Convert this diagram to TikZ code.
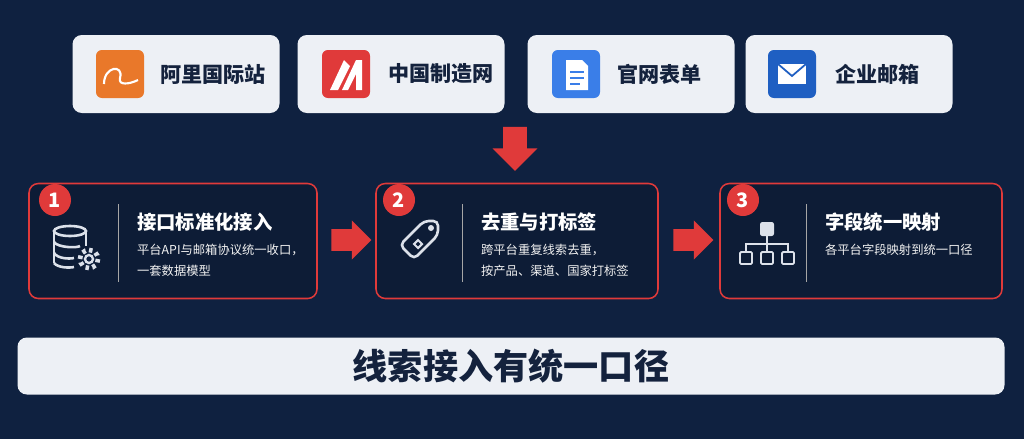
\documentclass[tikz,border=0pt]{standalone}
\usepackage{fontspec}
\setmainfont{Noto Sans CJK SC}
\usetikzlibrary{positioning,shapes.arrows}
\definecolor{bgnavy}{HTML}{0F2140}
\definecolor{cardgray}{HTML}{EDF0F5}
\definecolor{stepred}{HTML}{E03A3A}
\definecolor{inknavy}{HTML}{14223D}
\definecolor{aliorange}{HTML}{E9782A}
\definecolor{docblue}{HTML}{3A7EE8}
\definecolor{mailblue}{HTML}{1F5FC2}
\definecolor{icongray}{HTML}{DCE1EA}

\begin{document}
\begin{tikzpicture}[x=0.03cm,y=-0.03cm,
    source/.style = {
      fill = cardgray,
      rounded corners = 8pt,
      minimum width = 207*0.03cm,
      minimum height = 78*0.03cm
    },
    logo/.style = {
      rounded corners = 5pt,
      minimum size = 48*0.03cm
    },
    srctext/.style = {
      font = \fontsize{18}{20}\selectfont\bfseries,
      text = inknavy,
      anchor = west
    },
    stage/.style = {
      draw = stepred,
      line width = 1.3pt,
      fill = bgnavy!85!black,
      rounded corners = 8pt,
      minimum height = 115*0.03cm
    },
    badge/.style = {
      circle,
      fill = stepred,
      text = white,
      minimum size = 32*0.03cm,
      inner sep = 0pt,
      font = \fontsize{17}{17}\selectfont\bfseries
    },
    steptitle/.style = {
      font = \fontsize{16.5}{18}\selectfont\bfseries,
      text = white,
      anchor = west
    },
    stepdesc/.style = {
      font = \fontsize{10.5}{18}\selectfont,
      text = white!90!gray,
      anchor = north west,
      align = left
    },
    flow/.style = {
      single arrow,
      fill = stepred,
      minimum height = 40*0.03cm,
      inner xsep = 0pt,
      inner ysep = 9pt,
      single arrow head extend = 7.5pt
    },
    icon/.style = {
      icongray,
      line width = 2.2pt
    }
  ]
  \fill[bgnavy] (0,0) rectangle (1024,439);

  % sources
  \node[source] (ali)  at (176,74) {};
  \node[source] (made) at (401,74) {};
  \node[source] (form) at (631,74) {};
  \node[source] (mail) at (849,74) {};

  \node[logo,fill=aliorange] (alilogo)  at (120,74) {};
  \node[logo,fill=stepred]   (madelogo) at (346,74) {};
  \node[logo,fill=docblue]   (formlogo) at (576,74) {};
  \node[logo,fill=mailblue]  (maillogo) at (792,74) {};

  \node[srctext] at (156,74) {阿里国际站};
  \node[srctext] at (384,74) {中国制造网};
  \node[srctext] at (613,74) {官网表单};
  \node[srctext] at (831,74) {企业邮箱};

  % logo marks
  \draw[white,line width=1.8pt] (104,84) .. controls (104,66) and (124,64) .. (120,78)
    .. controls (118,86) and (130,84) .. (138,80);
  \fill[white] (330,90) -- (344,60) -- (350,66) -- (338,90) -- cycle;
  \fill[white] (342,90) -- (356,60) -- (362,60) -- (362,90) -- (356,90) -- (356,74) -- (348,90) -- cycle;
  \fill[white] (566,60) -- (582,60) -- (588,66) -- (588,90) -- (566,90) -- cycle;
  \draw[docblue,line width=1.5pt] (570,72) -- (584,72) (570,78) -- (584,78) (570,84) -- (580,84);
  \fill[white] (778,64) rectangle (806,84);
  \draw[mailblue,line width=1.5pt] (778,64) -- (792,76) -- (806,64);

  \node[flow,shape border rotate=270,minimum height=44*0.03cm,inner xsep=10pt,inner ysep=0pt,single arrow head extend=9pt] (down) at (515,143) {};

  % steps
  \node[stage,minimum width=288*0.03cm] (ingest) at (173,241) {};
  \node[stage,minimum width=282*0.03cm] (dedup)  at (517,241) {};
  \node[stage,minimum width=282*0.03cm] (mapping) at (861,241) {};

  \node[flow] (a12) at (346,240) {};
  \node[flow] (a23) at (688,240) {};

  \node[badge] (b1) at (55,200) {1};
  \node[badge] (b2) at (399,200) {2};
  \node[badge] (b3) at (743,200) {3};

  \draw[gray!70,line width=0.6pt] (118,204) -- (118,282);
  \draw[gray!70,line width=0.6pt] (462,204) -- (462,282);
  \draw[gray!70,line width=0.6pt] (806,204) -- (806,282);

  \node[steptitle] at (133,222) {接口标准化接入};
  \node[stepdesc]  at (133,240) {平台API与邮箱协议统一收口，\\一套数据模型};
  \node[steptitle] at (477,222) {去重与打标签};
  \node[stepdesc]  at (477,240) {跨平台重复线索去重，\\按产品、渠道、国家打标签};
  \node[steptitle] at (821,222) {字段统一映射};
  \node[stepdesc]  at (821,240) {各平台字段映射到统一口径};

  % step icons
  \draw[icon] (70,231) ellipse (16 and 5);
  \draw[icon] (54,231) -- (54,263) (86,231) -- (86,246);
  \draw[icon] (54,242) .. controls (58,248) and (78,248) .. (80,246);
  \draw[icon] (54,253) .. controls (58,259) and (70,259) .. (74,258);
  \draw[icon] (54,263) .. controls (58,268) and (70,268) .. (74,267);
  \draw[icon,line width=4pt,dash pattern=on 3pt off 3pt] (89,259) circle (9);
  \fill[bgnavy] (89,259) circle (6);
  \draw[icon,line width=2pt] (89,259) circle (4);

  \draw[icon,rounded corners=4pt] (400,245) -- (424,221) -- (438,221) -- (438,235) -- (414,259) -- cycle;
  \fill[icongray] (431,228) circle (3);
  \draw[icon,line width=1.8pt] (418,240) -- (422,244) -- (418,248) -- (414,244) -- cycle;

  \fill[icongray,rounded corners=2pt] (760,222) rectangle (774,236);
  \draw[icon,line width=1.6pt] (767,236) -- (767,244) (746,252) -- (746,244) -- (788,244) -- (788,252) (767,244) -- (767,252);
  \foreach \px in {746,767,788}
    \draw[icon,line width=1.6pt,rounded corners=1pt] (\px-6,252) rectangle (\px+6,264);

  % summary bar
  \node[fill=cardgray,rounded corners=8pt,minimum width=987*0.03cm,minimum height=57*0.03cm,
    font=\fontsize{30}{32}\selectfont\bfseries,text=inknavy] (summary) at (511,366) {线索接入有统一口径};
\end{tikzpicture}
\end{document}
